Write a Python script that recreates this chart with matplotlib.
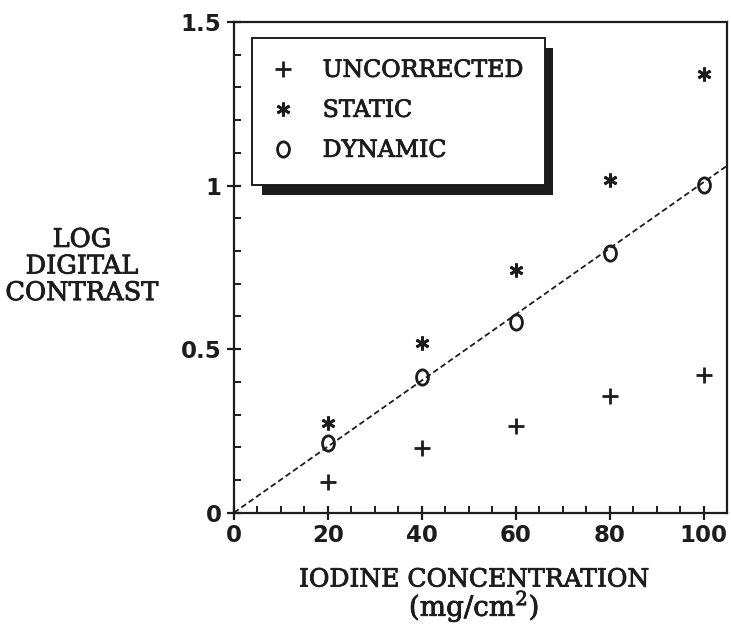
import matplotlib
matplotlib.use("Agg")
import matplotlib.pyplot as plt
import matplotlib.patheffects as pe
from matplotlib.patches import Rectangle
from matplotlib.path import Path
from matplotlib.transforms import Affine2D
from matplotlib.ticker import MultipleLocator, FixedLocator

# Iodine concentration (mg/cm^2)
concentration = [20, 40, 60, 80, 100]

# Log digital contrast for each correction scheme
uncorrected = [0.095, 0.197, 0.265, 0.357, 0.421]
static = [0.273, 0.520, 0.742, 1.018, 1.340]
dynamic = [0.212, 0.416, 0.584, 0.795, 1.003]

# Fitted line through the origin
fit_slope = 0.0101
fit_x = [0, 105]

x_ticks = [0, 20, 40, 60, 80, 100]
x_tick_labels = ["0", "20", "40", "60", "80", "100"]
y_ticks = [0, 0.5, 1.0, 1.5]
y_tick_labels = ["0", "0.5", "1", "1.5"]

INK = "#1c1c1c"
SERIF = ["DejaVu Serif"]
TICKFONT = ["DejaVu Sans"]
heavy = [pe.withStroke(linewidth=0.6, foreground=INK)]

# narrow open "0" shaped marker
oval = Path.unit_circle().transformed(Affine2D().scale(0.78, 1.0))

fig = plt.figure(figsize=(7.31, 6.25), dpi=100)
fig.patch.set_facecolor("white")
ax = fig.add_axes([0.320, 0.1797, 0.6745, 0.7851])

ax.set_xlim(0, 105)
ax.set_ylim(0, 1.5)

# dashed fit line
ax.plot(fit_x, [fit_slope * v for v in fit_x], linestyle=(0, (3.2, 1.8)),
        color=INK, linewidth=1.3, zorder=2)

ax.plot(concentration, uncorrected, linestyle="none", marker="+",
        markersize=11, markeredgewidth=2.0, color=INK, label="UNCORRECTED", zorder=3)
ax.plot(concentration, static, linestyle="none", marker=(6, 2, 0),
        markersize=10, markeredgewidth=2.0, color=INK, label="STATIC", zorder=3)
ax.plot(concentration, dynamic, linestyle="none", marker=oval,
        markersize=11, markeredgewidth=2.0, markerfacecolor="none",
        color=INK, label="DYNAMIC", zorder=3)

# axes frame and ticks
for side in ["left", "bottom", "right", "top"]:
    ax.spines[side].set_linewidth(1.6)
    ax.spines[side].set_color(INK)

ax.xaxis.set_major_locator(FixedLocator(x_ticks))
ax.set_xticklabels(x_tick_labels)
ax.xaxis.set_minor_locator(MultipleLocator(5))
ax.yaxis.set_major_locator(FixedLocator(y_ticks))
ax.set_yticklabels(y_tick_labels)
ax.yaxis.set_minor_locator(MultipleLocator(0.1))

ax.tick_params(which="major", direction="inout", length=10, width=1.6,
               color=INK, labelcolor=INK, labelsize=16.5, top=False, right=False)
ax.tick_params(which="minor", direction="in", length=5, width=1.4,
               color=INK, top=False, right=False)
ax.tick_params(axis="x", which="major", pad=3)
ax.tick_params(axis="y", which="major", pad=4)
for lab in ax.get_xticklabels() + ax.get_yticklabels():
    lab.set_fontfamily(TICKFONT)
    lab.set_fontweight("bold")

# legend box with a solid drop shadow
shadow = Rectangle((0.0568, 0.6484), 0.5903, 0.2976, transform=ax.transAxes,
                   facecolor=INK, edgecolor="none", zorder=4)
frame = Rectangle((0.0365, 0.6688), 0.5945, 0.2979, transform=ax.transAxes,
                  facecolor="white", edgecolor=INK, linewidth=1.4, zorder=5)
ax.add_patch(shadow)
ax.add_patch(frame)

leg = ax.legend(loc="upper left", bbox_to_anchor=(0.077, 0.925),
                frameon=False, handlelength=0.9, handletextpad=1.25,
                labelspacing=0.72, borderaxespad=0, borderpad=0,
                prop={"family": SERIF, "size": 17})
leg.set_zorder(6)
for t in leg.get_texts():
    t.set_color(INK)
    t.set_path_effects(heavy)

# axis titles
fig.text(82 / 731, 1 - 266 / 625, "LOG\nDIGITAL\nCONTRAST", ha="center",
         va="center", family=SERIF, fontsize=18.5, color=INK, linespacing=1.08,
         path_effects=heavy)
fig.text(474 / 731, 1 - 580 / 625, "IODINE CONCENTRATION", ha="center",
         va="center", family=SERIF, fontsize=18, color=INK, path_effects=heavy)
fig.text(474 / 731, 1 - 606 / 625, r"(mg/cm$^\mathregular{2}$)", ha="center",
         va="center", family=SERIF, fontsize=20, color=INK, path_effects=heavy)

fig.savefig("out.png", dpi=100, facecolor="white")
